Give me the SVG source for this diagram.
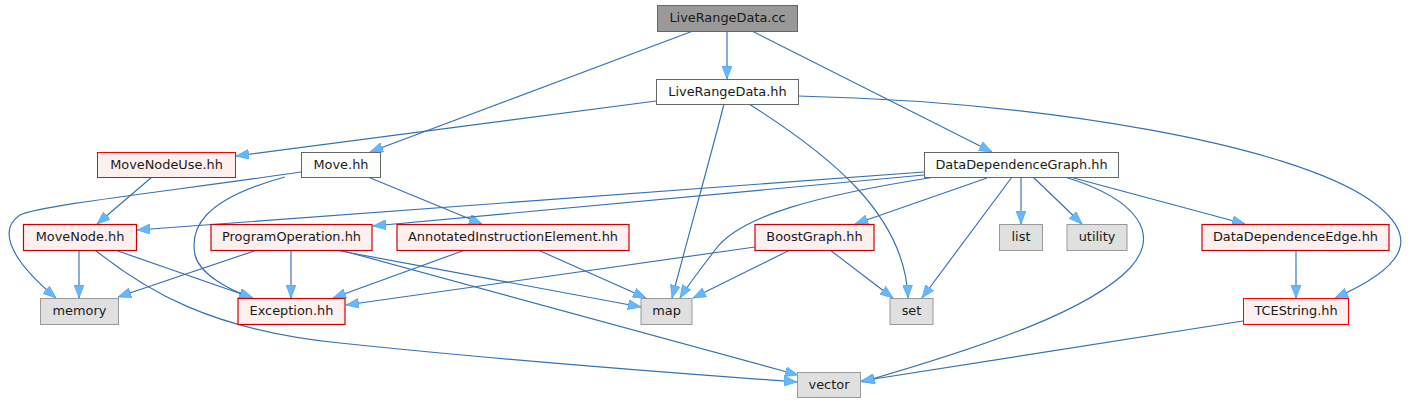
<svg xmlns="http://www.w3.org/2000/svg" width="1413" height="403" viewBox="0 0 1413 403">
<style>
text{font-family:"DejaVu Sans","Liberation Sans",sans-serif;font-size:12.9px;fill:#1a1a1a;text-anchor:middle}
.main rect{fill:#999999;stroke:#666666;stroke-width:1}
.doc rect{fill:#fcfefc;stroke:#666666;stroke-width:1}
.red rect{fill:#fff0f0;stroke:#cc0000;stroke-width:1.2}
.red2 rect{fill:#fff0f0;stroke:#ff0000;stroke-width:1}
.sys rect{fill:#e0e0e0;stroke:#999999;stroke-width:1}
#edges path{fill:none;stroke:#3470b5;stroke-width:1.15;marker-end:url(#arr)}
</style>
<defs>
<marker id="arr" viewBox="0 0 13 10" refX="13" refY="5" markerWidth="13" markerHeight="10" markerUnits="userSpaceOnUse" orient="auto">
<path d="M0,0 L13,5 L0,10 Z" fill="#63b8ff" stroke="#4a9ae0" stroke-width="0.6"/>
</marker>
</defs>
<g id="edges">
<path d="M727,31 L727,79"/>
<path d="M693,31 L370,152"/>
<path d="M752,31 L992,152"/>
<path d="M656,101 L236,156"/>
<path d="M724,104 C715,140 690,230 672,298"/>
<path d="M749,104 C830,155 905,215 908,298"/>
<path d="M798,96 C1050,102 1290,145 1370,200 C1420,235 1410,265 1335,298"/>
<path d="M301,172 C180,190 40,205 20,215 C0,228 5,255 56,298"/>
<path d="M285,177 C200,200 190,230 195,255 C200,275 230,290 252,298"/>
<path d="M368,177 L482,224"/>
<path d="M152,177 L97,224"/>
<path d="M924,172 L137,230"/>
<path d="M924,175 L373,226"/>
<path d="M935,177 C820,195 740,215 715,250 C700,270 688,285 680,298"/>
<path d="M987,178 L855,224"/>
<path d="M1012,177 L922,298"/>
<path d="M1021,177 L1021,224"/>
<path d="M1033,177 L1082,224"/>
<path d="M1065,177 C1140,200 1160,235 1130,268 C1090,310 990,345 862,382"/>
<path d="M1070,177 L1245,224"/>
<path d="M79,250 L79,298"/>
<path d="M115,250 L253,298"/>
<path d="M95,250 C145,290 210,330 340,343 C500,360 700,375 797,382"/>
<path d="M257,250 L118,297"/>
<path d="M291,250 L291,298"/>
<path d="M335,250 L641,307"/>
<path d="M340,250 L798,375"/>
<path d="M465,250 L333,298"/>
<path d="M538,250 L646,298"/>
<path d="M755,247 L346,305"/>
<path d="M790,250 L693,298"/>
<path d="M830,250 L893,298"/>
<path d="M1296,250 L1296,298"/>
<path d="M1243,321 L861,381"/>
</g>
<g id="n_lrdcc" class="main"><rect x="657.5" y="5.5" width="140" height="26"/><text x="727.5" y="22">LiveRangeData.cc</text></g>
<g id="n_lrdhh" class="doc"><rect x="656.5" y="79.5" width="142" height="25"/><text x="727.5" y="95.5">LiveRangeData.hh</text></g>
<g id="n_mnu" class="red2"><rect x="97.5" y="152.5" width="138" height="25"/><text x="166.5" y="168.5">MoveNodeUse.hh</text></g>
<g id="n_move" class="doc"><rect x="301.5" y="152.5" width="79" height="25"/><text x="341" y="168.5">Move.hh</text></g>
<g id="n_ddg" class="doc"><rect x="924.5" y="152.5" width="194" height="25"/><text x="1021.5" y="168.5">DataDependenceGraph.hh</text></g>
<g id="n_mn" class="red"><rect x="23.5" y="224.5" width="113" height="26"/><text x="80" y="241">MoveNode.hh</text></g>
<g id="n_po" class="red"><rect x="211" y="224.5" width="161" height="26"/><text x="291.5" y="241">ProgramOperation.hh</text></g>
<g id="n_aie" class="red"><rect x="397" y="224.5" width="232" height="26"/><text x="513" y="241">AnnotatedInstructionElement.hh</text></g>
<g id="n_bg" class="red"><rect x="755" y="224.5" width="119" height="26"/><text x="814.5" y="241">BoostGraph.hh</text></g>
<g id="n_list" class="sys"><rect x="999.5" y="224.5" width="43" height="26"/><text x="1021" y="241">list</text></g>
<g id="n_utility" class="sys"><rect x="1067" y="224.5" width="60" height="26"/><text x="1097" y="241">utility</text></g>
<g id="n_dde" class="red"><rect x="1202" y="224.5" width="187" height="26"/><text x="1295.5" y="241">DataDependenceEdge.hh</text></g>
<g id="n_memory" class="sys"><rect x="40.5" y="298.5" width="78" height="26"/><text x="79.5" y="315">memory</text></g>
<g id="n_exc" class="red"><rect x="238" y="298.5" width="107" height="26"/><text x="291.5" y="315">Exception.hh</text></g>
<g id="n_map" class="sys"><rect x="641" y="298.5" width="51" height="26"/><text x="666.5" y="315">map</text></g>
<g id="n_set" class="sys"><rect x="890" y="298.5" width="43" height="26"/><text x="911.5" y="315">set</text></g>
<g id="n_tce" class="red2"><rect x="1243.5" y="298.5" width="105" height="26"/><text x="1296" y="315">TCEString.hh</text></g>
<g id="n_vector" class="sys"><rect x="797.5" y="372.5" width="63" height="25"/><text x="829" y="389">vector</text></g>
</svg>
